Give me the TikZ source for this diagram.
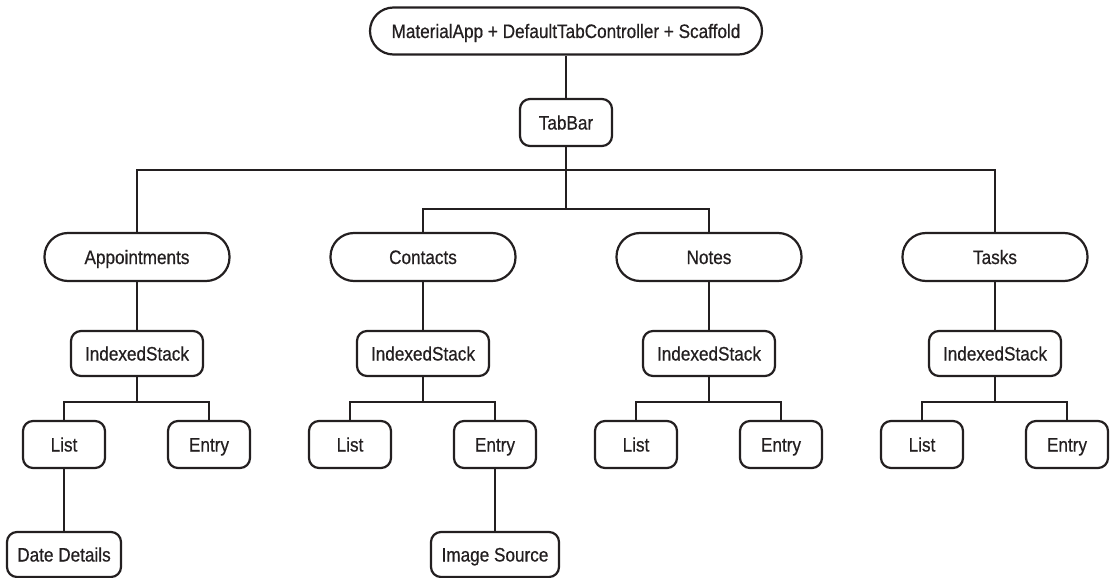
\documentclass[tikz,border=0pt]{standalone}
\usepackage{fontspec}
\setmainfont[FakeStretch=0.88, FakeBold=0.6]{Liberation Sans}
\usetikzlibrary{calc}

\definecolor{tinta}{RGB}{35,31,32}

\tikzset{
caja/.style = {draw = tinta, text = tinta, line width = 2.2pt, rounded corners = 10pt,
	inner sep = 0pt, minimum height = 47pt, text height = 14pt, text depth = 0pt,
	font = \fontsize{19.5}{22}\selectfont},
pastilla/.style = {caja, rounded corners = 23.5pt, minimum width = 185pt, minimum height = 48pt},
pila/.style = {caja, minimum width = 132pt, minimum height = 45pt},
hoja/.style = {caja, minimum width = 82pt},
linea/.style = {draw = tinta, line width = 2.2pt}
}

\begin{document}
\begin{tikzpicture}[x = 1pt, y = -1pt]
\useasboundingbox (0,0) rectangle (1114,578);

% raíz y barra de pestañas
\node[pastilla, minimum width = 392pt, minimum height = 47pt] (app) at (566,31) {MaterialApp + DefaultTabController + Scaffold};
\node[caja, minimum width = 92pt] (tabbar) at (566,122.5) {TabBar};
\coordinate (b1) at (566,170);
\coordinate (b2) at (566,209);

% una rama por pestaña: nombre/x/texto
\foreach \n/\x/\t in {ap/137/Appointments, co/423/Contacts, no/709/Notes, ta/995/Tasks}{
	\node[pastilla] (\n) at (\x,257) {\t};
	\node[pila] (\n-is) at (\x,353.5) {IndexedStack};
	\node[hoja] (\n-l) at ({\x-73},444.5) {List};
	\node[hoja] (\n-e) at ({\x+72},444.5) {Entry};
	\coordinate (\n-b) at (\x,402);
	\draw[linea] (\n) -- (\n-is) -- (\n-b);
	\draw[linea] (\n-l) |- (\n-b) -| (\n-e);
}

%\node (dd) at (64,554.5) {};
\node[caja, minimum width = 114pt, minimum height = 45pt] (fecha) at (64,554.5) {Date Details};
\node[caja, minimum width = 128pt, minimum height = 45pt] (imagen) at (495,554.5) {Image Source};

\draw[linea] (app) -- (tabbar) -- (b2);
\draw[linea] (ap) |- (b1) -| (ta);
\draw[linea] (co) |- (b2) -| (no);
\draw[linea] (ap-l) -- (fecha);
\draw[linea] (co-e) -- (imagen);
\end{tikzpicture}
\end{document}
